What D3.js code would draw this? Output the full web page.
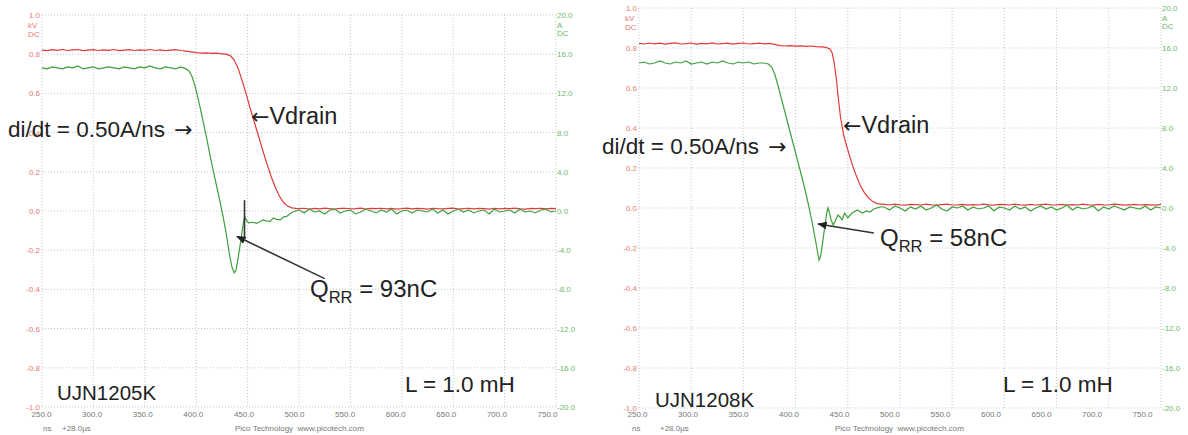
<!DOCTYPE html>
<html><head><meta charset="utf-8">
<script src="https://cdn.jsdelivr.net/npm/d3@7"></script>
<style>html,body{margin:0;padding:0;background:#fff;overflow:hidden;}</style>
</head><body>
<svg id="chart" width="1188" height="435"></svg>
<script>
// ---------- tick labels ----------
const timeTicks = [250,300,350,400,450,500,550,600,650,700,750];
const voltTicks = [1.0,0.8,0.6,0.4,0.2,0.0,-0.2,-0.4,-0.6,-0.8,-1.0];
const currTicks = [20,16,12,8,4,0,-4,-8,-12,-16,-20];

// ---------- UJN1205K (left) ----------
const leftVdrainTime = [250,255,260,265,270,275,280,285,290,295,300,305,310,315,320,325,330,335,340,345,350,355,360,365,370,375,380,385,390,395,
 400,405,410,415,420,425,429,433,437,441,445,449,453,457,461,465,469,473,477,481,485,489,493,497,
 500,505,510,515,520,525,530,535,540,545,550,555,560,565,570,575,580,585,590,595,600,605,610,615,620,625,630,635,640,645,650,655,660,665,670,675,680,685,690,695,700,705,710,715,720,725,730,735,740,745,750];
const leftVdrainKV = [0.821,0.818,0.823,0.820,0.824,0.819,0.822,0.824,0.818,0.821,0.823,0.819,0.822,0.820,0.824,0.818,0.821,0.823,0.819,0.822,0.820,0.824,0.819,0.822,0.818,0.821,0.823,0.819,0.816,0.812,
 0.808,0.805,0.807,0.804,0.805,0.802,0.800,0.793,0.770,0.725,0.660,0.590,0.515,0.445,0.375,0.305,0.238,0.175,0.120,0.075,0.043,0.025,0.016,0.013,
 0.012,0.014,0.010,0.013,0.011,0.015,0.012,0.010,0.013,0.014,0.011,0.012,0.015,0.010,0.013,0.012,0.014,0.011,0.013,0.010,0.012,0.015,0.011,0.013,0.012,0.010,0.014,0.012,0.011,0.013,0.015,0.010,0.012,0.014,0.011,0.013,0.012,0.010,0.014,0.011,0.013,0.012,0.015,0.011,0.010,0.013,0.012,0.014,0.011,0.013,0.012];
const leftCurrentTime = [250,255,260,265,270,275,280,285,290,295,300,305,310,315,320,325,330,335,340,345,350,355,360,365,370,375,380,385,390,
 393,396,399,402,405,408,411,414,417,420,423,426,429,431,433,435,437,438.5,440,442,444,445.5,446.5,447.5,449,451,455,459,462,465,468,472,475,478,482,485,488,491,494,
 500,505,510,515,520,525,530,535,540,545,550,555,560,565,570,575,580,585,590,595,600,605,610,615,620,625,630,635,640,645,650,655,660,665,670,675,680,685,690,695,700,705,710,715,720,725,730,735,740,745,750];
const leftCurrentA = [14.6,14.5,14.7,14.6,14.5,14.7,14.6,14.8,14.5,14.6,14.7,14.5,14.6,14.7,14.6,14.5,14.7,14.6,14.5,14.7,14.6,14.8,14.6,14.5,14.7,14.6,14.5,14.7,14.5,
 14.3,13.7,12.7,11.4,10.0,8.5,7.0,5.4,3.9,2.5,1.0,-0.5,-2.2,-3.5,-4.8,-5.8,-6.3,-6.1,-5.3,-4.0,-2.6,-1.5,-0.8,-0.6,-1.0,-1.2,-1.15,-1.25,-1.1,-0.9,-1.0,-1.05,-0.7,-0.85,-0.9,-0.6,-0.55,-0.3,-0.1,
 0.1,-0.2,0.2,-0.1,0.0,-0.3,0.1,0.2,-0.2,0.0,0.1,-0.3,-0.1,0.2,0.0,-0.2,0.1,-0.1,0.2,-0.3,0.0,0.1,-0.2,0.1,0.0,-0.1,0.2,-0.2,0.1,-0.3,0.0,0.2,-0.1,0.1,-0.2,0.0,0.1,-0.3,0.2,-0.1,0.0,0.1,-0.2,0.2,-0.1,0.0,-0.2,0.1,0.2,-0.1,0.0];

// ---------- UJN1208K (right) ----------
const rightVdrainTime = [250,255,260,265,270,275,280,285,290,295,300,305,310,315,320,325,330,335,340,345,350,355,360,365,370,375,380,
 385,390,395,400,405,410,415,420,425,429,433,435,437,439,441,443,446,450,454,458,462,466,470,474,478,
 485,490,495,500,505,510,515,520,525,530,535,540,545,550,555,560,565,570,575,580,585,590,595,600,605,610,615,620,625,630,635,640,645,650,655,660,665,670,675,680,685,690,695,700,705,710,715,720,725,730,735,740,745,750];
const rightVdrainKV = [0.823,0.820,0.825,0.821,0.824,0.819,0.823,0.826,0.820,0.822,0.825,0.819,0.823,0.821,0.826,0.820,0.822,0.824,0.819,0.823,0.825,0.820,0.822,0.824,0.821,0.823,0.818,
 0.812,0.810,0.812,0.809,0.811,0.808,0.810,0.807,0.806,0.803,0.795,0.775,0.725,0.645,0.545,0.455,0.365,0.290,0.222,0.162,0.112,0.076,0.050,0.032,0.022,
 0.018,0.015,0.019,0.016,0.014,0.018,0.017,0.015,0.019,0.016,0.014,0.017,0.019,0.015,0.016,0.018,0.014,0.017,0.015,0.019,0.016,0.014,0.018,0.017,0.015,0.019,0.016,0.014,0.018,0.015,0.017,0.019,0.015,0.016,0.018,0.014,0.017,0.015,0.019,0.016,0.014,0.018,0.016,0.015,0.019,0.017,0.014,0.016,0.018,0.015,0.017,0.016,0.014,0.018];
const rightCurrentTime = [250,255,260,265,270,275,280,285,290,295,300,305,310,315,320,325,330,335,340,345,350,355,360,365,370,
 374,377,380,383,386,389,392,395,398,401,404,407,410,413,416,419,421,422.5,424,426,428,430,431,432.5,434,436,438,440.5,442.5,444.5,447,450,454,459,464,468,471,475,478,481,
 485,490,495,500,505,510,515,520,525,530,535,540,545,550,555,560,565,570,575,580,585,590,595,600,605,610,615,620,625,630,635,640,645,650,655,660,665,670,675,680,685,690,695,700,705,710,715,720,725,730,735,740,745,750];
const rightCurrentA = [14.5,14.6,14.4,14.5,14.7,14.5,14.4,14.6,14.5,14.7,14.4,14.5,14.6,14.4,14.6,14.5,14.7,14.5,14.4,14.6,14.5,14.6,14.4,14.5,14.5,
 14.4,14.1,13.4,12.3,11.1,9.9,8.7,7.5,6.3,5.1,3.9,2.7,1.4,0.0,-1.5,-3.2,-4.4,-5.2,-4.8,-3.4,-1.8,-0.4,0.0,-0.5,-1.2,-1.7,-1.3,-0.7,-0.9,-1.2,-0.5,-1.0,-0.5,-0.2,-0.5,-0.3,-0.4,-0.1,0.0,0.1,
 0.1,-0.2,0.2,0.0,-0.3,0.1,-0.1,0.2,-0.2,0.0,0.3,-0.1,-0.3,0.1,0.0,0.2,-0.2,0.1,-0.1,0.0,0.2,-0.3,0.1,0.0,-0.2,0.2,-0.1,0.1,-0.3,0.0,0.2,-0.1,0.1,-0.2,0.0,0.3,-0.2,0.1,-0.1,0.0,0.2,-0.3,0.1,-0.1,0.2,0.0,-0.2,0.1,0.0,-0.1,0.2,-0.2,0.1,0.0];

// ---------- annotation texts ----------
const deviceNames = ["UJN1205K","UJN1208K"];
const qrrValues = ["93nC","58nC"];
const didtLabel = "di/dt = 0.50A/ns ";
const vdrainLabel = "Vdrain";
const inductLabel = "L = 1.0 mH";

// ---------- drawing ----------
const svg = d3.select("#chart");
svg.append("rect").attr("width",1188).attr("height",435).attr("fill","#fff");
svg.append("defs").append("marker").attr("id","ah").attr("viewBox","0 0 10 10")
  .attr("refX",9).attr("refY",5).attr("markerWidth",6).attr("markerHeight",6)
  .attr("markerUnits","strokeWidth").attr("orient","auto")
  .append("path").attr("d","M0,1L10,5L0,9z").attr("fill","#222");

const fmt = d3.formatLocale({decimal:".",thousands:",",grouping:[3],currency:["",""],minus:"-"}).format(".1f");
const FONT = "'Liberation Sans', Arial, sans-serif";
const ARROWFONT = "'DejaVu Sans', sans-serif";

const panels = [
  {left:42, right:556, top:15, bottom:407, labelRange:[41,547], nsX:43, usX:62, picoX:235,
   vT:leftVdrainTime, vV:leftVdrainKV, iT:leftCurrentTime, iV:leftCurrentA,
   name:deviceNames[0], qrr:qrrValues[0],
   didt:[8,137], vd:[251,124], q:[310,297], nm:[57,400], ind:[405,392],
   arrow:[[525,-6.9],[439.7,-2.6]], spike:[447,1.1,-3.0]},
  {left:639, right:1161, top:8, bottom:408, labelRange:[637,1142], nsX:632, usX:660, picoX:835,
   vT:rightVdrainTime, vV:rightVdrainKV, iT:rightCurrentTime, iV:rightCurrentA,
   name:deviceNames[1], qrr:qrrValues[1],
   didt:[602,154], vd:[843,133], q:[880,246], nm:[655,407], ind:[1003,392],
   arrow:[[475,-2.5],[421.5,-1.6]], spike:null}
];

panels.forEach(p => {
  const g = svg.append("g");
  const x = d3.scaleLinear().domain([250,750]).range([p.left,p.right]);
  const xl = d3.scaleLinear().domain([250,750]).range(p.labelRange);
  const yV = d3.scaleLinear().domain([-1,1]).range([p.bottom,p.top]);
  const yA = d3.scaleLinear().domain([-20,20]).range([p.bottom,p.top]);

  // grid
  g.selectAll("line.vg").data(timeTicks).join("line").attr("class","vg")
    .attr("x1",d=>x(d)).attr("x2",d=>x(d)).attr("y1",p.top).attr("y2",p.bottom)
    .attr("stroke","#bfc9c9").attr("stroke-width",1).attr("stroke-dasharray","1,2");
  g.selectAll("line.hg").data(voltTicks).join("line").attr("class","hg")
    .attr("x1",p.left).attr("x2",p.right).attr("y1",d=>yV(d)).attr("y2",d=>yV(d))
    .attr("stroke","#bfc9c9").attr("stroke-width",1).attr("stroke-dasharray","1,2");

  // left axis (kV)
  const axL = g.append("g").attr("transform",`translate(${p.left-2},0)`)
    .call(d3.axisLeft(yV).tickValues(voltTicks).tickFormat(fmt).tickSize(0).tickPadding(0));
  axL.select(".domain").remove();
  axL.selectAll("text").attr("fill","#e77a76").attr("font-family",FONT).attr("font-size",8);
  [["kV",10],["DC",19]].forEach(([t,dy]) => g.append("text").text(t)
    .attr("x",p.left-14).attr("y",yV(1)+dy+3).attr("fill","#e77a76")
    .attr("font-family",FONT).attr("font-size",8));

  // right axis (A)
  const axR = g.append("g").attr("transform",`translate(${p.right+1},0)`)
    .call(d3.axisRight(yA).tickValues(currTicks).tickFormat(fmt).tickSize(0).tickPadding(0));
  axR.select(".domain").remove();
  axR.selectAll("text").attr("fill","#6db86d").attr("font-family",FONT).attr("font-size",8);
  [["A",10],["DC",18]].forEach(([t,dy]) => g.append("text").text(t)
    .attr("x",p.right+1).attr("y",yA(20)+dy+3).attr("fill","#6db86d")
    .attr("font-family",FONT).attr("font-size",8));

  // bottom axis (ns)
  const axB = g.append("g").attr("transform",`translate(0,${409})`)
    .call(d3.axisBottom(xl).tickValues(timeTicks).tickFormat(fmt).tickSize(0).tickPadding(2));
  axB.select(".domain").remove();
  axB.selectAll("text").attr("fill","#777").attr("font-family",FONT).attr("font-size",8);
  g.append("text").text("ns").attr("x",p.nsX).attr("y",431).attr("fill","#777").attr("font-family",FONT).attr("font-size",8);
  g.append("text").text("+28.0\u00b5s").attr("x",p.usX).attr("y",431).attr("fill","#777").attr("font-family",FONT).attr("font-size",8);
  g.append("text").text("Pico Technology  www.picotech.com").attr("x",p.picoX).attr("y",431)
    .attr("fill","#777").attr("font-family",FONT).attr("font-size",8).attr("xml:space","preserve");

  // traces
  const lineV = d3.line().x(d=>x(d[0])).y(d=>yV(d[1]));
  const lineA = d3.line().x(d=>x(d[0])).y(d=>yA(d[1]));
  g.append("path").datum(d3.zip(p.vT,p.vV)).attr("d",lineV)
    .attr("fill","none").attr("stroke","#e03a3a").attr("stroke-width",1.2);
  g.append("path").datum(d3.zip(p.iT,p.iV)).attr("d",lineA)
    .attr("fill","none").attr("stroke","#3f9f3f").attr("stroke-width",1.2);

  // annotations
  const txt = (s,pos,size) => g.append("text").text(s).attr("x",pos[0]).attr("y",pos[1])
    .attr("fill","#222").attr("font-family",FONT).attr("font-size",size);
  const d1 = g.append("text").attr("x",p.didt[0]).attr("y",p.didt[1]).attr("fill","#222")
    .attr("font-family",FONT).attr("font-size",22.5).attr("xml:space","preserve");
  d1.append("tspan").text(didtLabel);
  d1.append("tspan").text("\u2192").attr("font-family",ARROWFONT).attr("font-size",22).attr("dx",3);
  const v1 = g.append("text").attr("x",p.vd[0]).attr("y",p.vd[1]).attr("fill","#222")
    .attr("font-family",FONT).attr("font-size",23.5);
  v1.append("tspan").text("\u2190").attr("font-family",ARROWFONT).attr("font-size",22);
  v1.append("tspan").text(vdrainLabel);
  txt(p.name,p.nm,20.5);
  txt(inductLabel,p.ind,22.5);
  const q = g.append("text").attr("x",p.q[0]).attr("y",p.q[1]).attr("fill","#222").attr("font-family",FONT).attr("font-size",24);
  q.append("tspan").text("Q");
  q.append("tspan").text("RR").attr("font-size",16.5).attr("dy",6);
  q.append("tspan").text(" = " + p.qrr).attr("dy",-6).attr("xml:space","preserve");

  g.append("line").attr("x1",x(p.arrow[0][0])).attr("y1",yA(p.arrow[0][1]))
    .attr("x2",x(p.arrow[1][0])).attr("y2",yA(p.arrow[1][1]))
    .attr("stroke","#333").attr("stroke-width",1.6).attr("marker-end","url(#ah)");
  if (p.spike) {
    g.append("line").attr("x1",x(p.spike[0])).attr("x2",x(p.spike[0]))
      .attr("y1",yA(p.spike[1])).attr("y2",yA(p.spike[2]))
      .attr("stroke","#333").attr("stroke-width",1.6);
  }
});
</script>
</body></html>
